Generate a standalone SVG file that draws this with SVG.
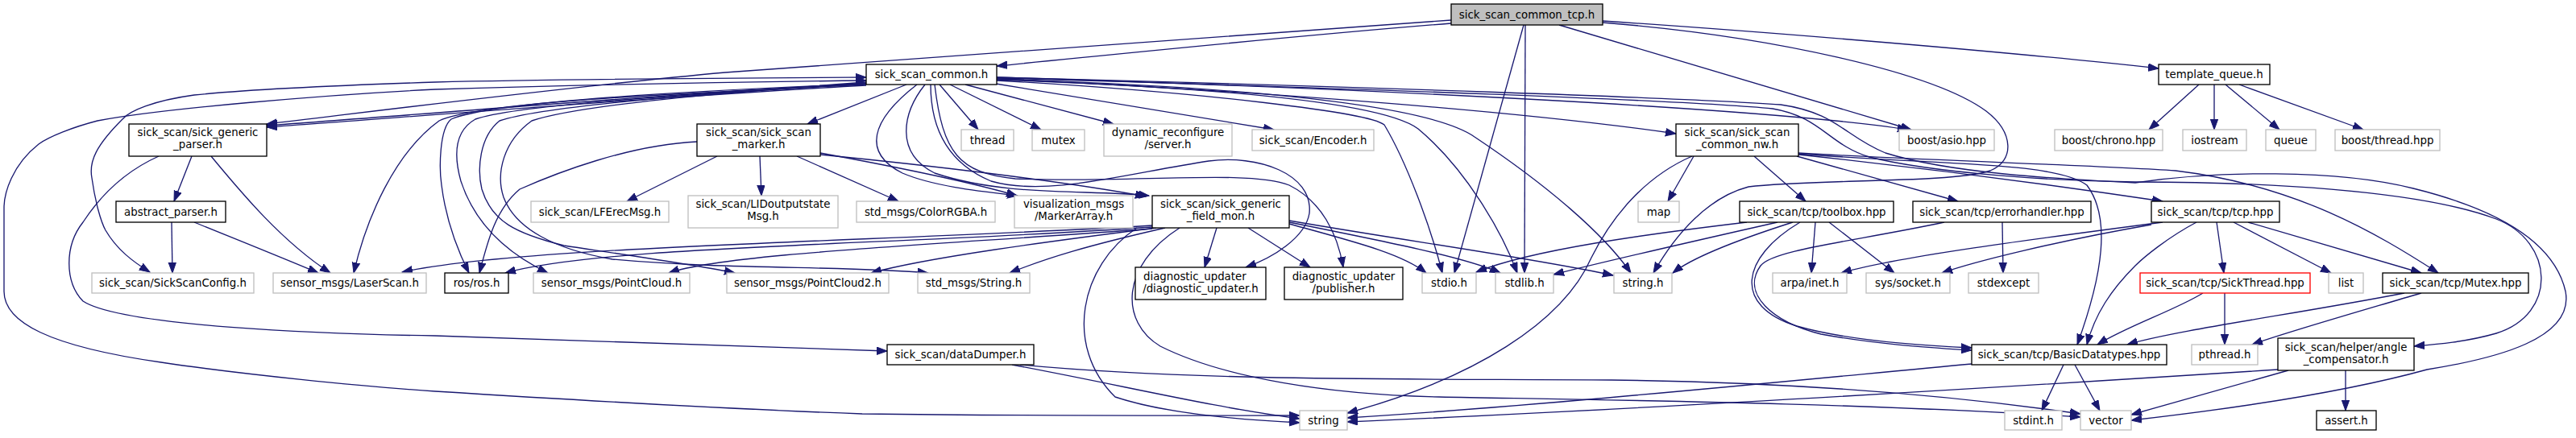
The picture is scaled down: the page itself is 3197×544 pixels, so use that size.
<svg xmlns="http://www.w3.org/2000/svg" width="3197" height="544" viewBox="0 0 3197 544">
<style>
text{font-family:"DejaVu Sans","Liberation Sans",sans-serif;font-size:13.33px;fill:#000;text-anchor:middle}
.d{fill:#fff;stroke:#000;stroke-width:1.33}
.u{fill:#fff;stroke:#bfbfbf;stroke-width:1.33}
.r{fill:#bfbfbf;stroke:#000;stroke-width:1.33}
.x{fill:#fff;stroke:#ff0000;stroke-width:1.33}
#edges path{fill:none;stroke:#191970;stroke-width:1.33;marker-end:url(#a)}
#edges path.b{marker-start:url(#s)}
</style>
<defs>
<marker id="a" markerUnits="userSpaceOnUse" markerWidth="15" markerHeight="11" refX="13" refY="5" orient="auto"><path d="M0,0.3 L13,5 L0,9.7 z" fill="#191970" stroke="#191970" stroke-width="1"/></marker>
<marker id="s" markerUnits="userSpaceOnUse" markerWidth="15" markerHeight="11" refX="13" refY="5" orient="auto-start-reverse"><path d="M0,0.3 L13,5 L0,9.7 z" fill="#191970" stroke="#191970" stroke-width="1"/></marker>
</defs>
<rect width="3197" height="544" fill="#fff"/>
<g id="edges">
<path d="M1801,29 C1600,45 1400,66 1237,82"/>
<path d="M1801,25 C1400,55 1000,82 900,90 C700,108 450,140 331,154"/>
<path d="M1075,104 C850,115 550,140 331,156"/>
<path d="M1075,106 C850,118 550,142 331,158"/>
<path class="b" d="M1075,96 C900,97 700,98 540,102 C420,106 300,112 241,118 C190,125 160,138 152,148 C120,180 110,200 114,221 C118,250 125,275 131,286 C145,310 165,325 186,338"/>
<path class="b" d="M1075,100 C900,102 700,106 540,111 C400,118 200,135 121,150 C90,158 60,170 48,179 C15,205 5,240 5,258 L5,362 C5,400 60,430 200,450 C300,465 450,480 540,486 C700,496 900,508 1070,514 C1300,517 1500,516 1613,516"/>
<path d="M1989,26 C2200,40 2500,65 2679,85"/>
<path d="M1935,31 C2100,80 2300,140 2372,161"/>
<path d="M1891,31 L1805,339"/>
<path d="M1893,31 L1892,339"/>
<path d="M1989,28 C2200,45 2400,90 2465,138 C2500,165 2500,200 2470,212 C2420,228 2250,222 2170,232 C2120,245 2080,290 2052,339"/>
<path d="M1075,105 C800,118 590,128 545,150 C490,190 455,270 439,339"/>
<path d="M1075,104 C800,115 600,130 560,148 C545,160 545,210 548,230 C553,270 565,305 582,339"/>
<path d="M1075,104 C850,118 640,130 590,148 C560,165 565,200 572,225 C590,280 630,315 680,339"/>
<path d="M1075,103 C900,115 680,130 620,150 C595,170 592,210 598,235 C610,275 640,290 700,305 C800,320 870,330 912,339"/>
<path d="M1075,102 C900,115 720,130 660,150 C625,175 615,215 625,245 C640,285 690,310 760,322 C900,335 1050,330 1152,339"/>
<path d="M1125,105 L1002,154"/>
<path d="M1138,105 C1080,150 1070,190 1120,215 C1160,232 1220,238 1263,243"/>
<path d="M1148,105 C1120,140 1110,190 1160,215 C1250,245 1350,235 1426,243"/>
<path d="M1166,105 L1214,161"/>
<path d="M1179,105 L1292,161"/>
<path d="M1198,105 L1382,154"/>
<path d="M1236,104 L1581,161"/>
<path d="M1155,105 C1155,150 1170,200 1230,225 C1300,245 1400,215 1500,200 C1560,192 1630,215 1625,265 C1620,295 1580,320 1546,332"/>
<path d="M1160,105 C1170,190 1190,215 1260,222 C1400,228 1550,210 1600,230 C1640,250 1660,290 1667,332"/>
<path d="M1237,98 C1600,115 1900,140 2080,166"/>
<path d="M1237,96 C1700,110 2200,135 2368,161"/>
<path d="M1237,100 C1500,115 1700,140 1718,155 C1745,200 1775,280 1790,339"/>
<path d="M1237,99 C1550,110 1720,130 1760,160 C1820,210 1865,290 1883,339"/>
<path d="M1237,98 C1600,110 1780,135 1830,170 C1920,230 1990,290 2024,339"/>
<path d="M1237,97 C1700,110 2100,125 2200,135 C2260,145 2270,180 2320,195 C2400,215 2550,225 2650,226 C2800,226 3000,235 3098,272 C3170,300 3175,390 3098,414 C3060,425 3020,428 2996,430"/>
<path d="M1237,96 C1700,108 2100,122 2210,130 C2280,140 2290,170 2340,190 C2420,215 2550,222 2650,227 C2750,212 2900,210 2995,234 C3100,260 3170,300 3184,362 C3195,420 3100,445 3012,459 C2900,490 2750,510 2645,522"/>
<path d="M2102,194 L2070,250"/>
<path d="M2100,194 C2040,220 2000,270 1975,320 C1940,400 1830,470 1672,513"/>
<path d="M2177,194 L2241,250"/>
<path d="M2230,194 L2430,250"/>
<path d="M2232,192 C2400,210 2550,230 2684,250"/>
<path d="M2232,190 C2400,200 2600,205 2700,212 C2850,230 2950,290 3026,339"/>
<path d="M2232,191 C2400,205 2550,200 2590,230 C2620,270 2610,340 2578,428"/>
<path d="M2168,276 C2050,290 1900,310 1832,338"/>
<path d="M2206,276 C2100,300 1990,325 1928,341"/>
<path d="M2225,276 C2150,300 2100,320 2076,339"/>
<path d="M2253,276 L2248,339"/>
<path d="M2270,276 L2351,339"/>
<path d="M2234,276 C2160,320 2150,380 2230,405 C2300,425 2400,430 2447,432"/>
<path d="M2413,276 C2300,300 2200,310 2185,330 C2160,365 2200,400 2260,415 C2330,428 2400,432 2447,435"/>
<path d="M2485,276 L2486,339"/>
<path d="M2684,276 C2500,300 2350,320 2285,339"/>
<path d="M2670,279 C2550,300 2450,325 2410,339"/>
<path d="M2726,276 C2690,295 2660,320 2650,330 C2620,360 2600,390 2590,428"/>
<path d="M2751,276 L2760,339"/>
<path d="M2772,276 L2893,339"/>
<path d="M2790,276 L3005,339"/>
<path d="M2734,364 C2700,385 2640,405 2603,428"/>
<path d="M2761,364 L2761,428"/>
<path d="M2984,364 C2850,390 2700,410 2640,428"/>
<path d="M3005,364 C2900,395 2830,415 2795,428"/>
<path d="M2911,460 L2911,510"/>
<path d="M2840,460 C2750,485 2680,505 2645,515"/>
<path d="M2827,459 C2500,480 2000,510 1672,524"/>
<path d="M2561,453 L2534,510"/>
<path d="M2575,453 L2606,510"/>
<path d="M2447,452 C2200,475 1900,505 1672,519"/>
<path d="M1256,453 C1400,480 1500,505 1613,520"/>
<path d="M1266,453 C1500,475 1800,470 2000,472 C2250,475 2450,495 2582,514"/>
<path d="M1411,283 C1340,330 1320,430 1384,493 C1450,515 1550,522 1613,525"/>
<path d="M1464,283 C1390,330 1390,400 1440,430 C1520,470 1650,490 1786,493 C2000,497 2300,500 2582,518"/>
<path d="M1510,283 L1495,332"/>
<path d="M1549,283 L1626,332"/>
<path d="M1600,278 C1680,300 1740,315 1770,339"/>
<path d="M1600,276 C1720,300 1820,320 1862,339"/>
<path d="M1600,274 C1750,300 1900,320 2002,342"/>
<path d="M1430,280 C1100,300 650,305 499,338"/>
<path d="M1430,282 C1100,305 750,305 627,339"/>
<path d="M1430,284 C1150,305 900,315 830,339"/>
<path d="M1435,283 C1300,300 1150,320 1081,339"/>
<path d="M1446,283 C1350,305 1300,320 1253,339"/>
<path d="M890,194 L778,250"/>
<path d="M943,194 L945,243"/>
<path d="M989,194 L1115,250"/>
<path d="M1018,190 C1100,205 1200,225 1262,243"/>
<path d="M1018,192 C1150,205 1320,225 1422,244"/>
<path d="M865,176 C780,180 690,215 645,235 C615,260 605,300 595,339"/>
<path d="M238,194 L216,250"/>
<path d="M262,194 C300,240 350,300 410,339"/>
<path d="M197,194 C150,215 120,250 103,276 C80,305 80,350 103,374 C150,405 400,415 540,417 C800,425 1000,434 1101,436"/>
<path d="M213,276 L214,339"/>
<path d="M241,276 C300,300 350,320 395,339"/>
<path d="M2729,105 L2667,161"/>
<path d="M2748,105 L2748,161"/>
<path d="M2762,105 L2829,161"/>
<path d="M2779,105 L2933,161"/>
</g>
<g id="n_root"><rect class="r" x="1801" y="5" width="188" height="26"/><text x="1895" y="22.5">sick_scan_common_tcp.h</text></g>
<g id="n_common"><rect class="d" x="1075" y="80" width="162" height="25"/><text x="1156" y="97">sick_scan_common.h</text></g>
<g id="n_tqueue"><rect class="d" x="2679" y="80" width="138" height="25"/><text x="2748" y="97">template_queue.h</text></g>
<g id="n_gparser"><rect class="d" x="160" y="154" width="171" height="40"/><text x="245.5" y="169">sick_scan/sick_generic</text><text x="245.5" y="184">_parser.h</text></g>
<g id="n_marker"><rect class="d" x="865" y="154" width="153" height="40"/><text x="941.5" y="169">sick_scan/sick_scan</text><text x="941.5" y="184">_marker.h</text></g>
<g id="n_thread"><rect class="u" x="1193" y="161" width="65" height="26"/><text x="1225.5" y="178.5">thread</text></g>
<g id="n_mutex"><rect class="u" x="1281" y="161" width="65" height="26"/><text x="1313.5" y="178.5">mutex</text></g>
<g id="n_dynrec"><rect class="u" x="1370" y="154" width="159" height="40"/><text x="1449.5" y="169">dynamic_reconfigure</text><text x="1449.5" y="184">/server.h</text></g>
<g id="n_encoder"><rect class="u" x="1554" y="161" width="151" height="26"/><text x="1629.5" y="178.5">sick_scan/Encoder.h</text></g>
<g id="n_nw"><rect class="d" x="2080" y="154" width="152" height="40"/><text x="2156" y="169">sick_scan/sick_scan</text><text x="2156" y="184">_common_nw.h</text></g>
<g id="n_asio"><rect class="u" x="2357" y="161" width="118" height="26"/><text x="2416" y="178.5">boost/asio.hpp</text></g>
<g id="n_chrono"><rect class="u" x="2550" y="161" width="134" height="26"/><text x="2617" y="178.5">boost/chrono.hpp</text></g>
<g id="n_iostream"><rect class="u" x="2709" y="161" width="79" height="26"/><text x="2748.5" y="178.5">iostream</text></g>
<g id="n_queue"><rect class="u" x="2812" y="161" width="62" height="26"/><text x="2843" y="178.5">queue</text></g>
<g id="n_bthread"><rect class="u" x="2898" y="161" width="130" height="26"/><text x="2963" y="178.5">boost/thread.hpp</text></g>
<g id="n_aparser"><rect class="d" x="144" y="250" width="136" height="26"/><text x="212" y="267.5">abstract_parser.h</text></g>
<g id="n_lferec"><rect class="u" x="659" y="250" width="171" height="26"/><text x="744.5" y="267.5">sick_scan/LFErecMsg.h</text></g>
<g id="n_lidout"><rect class="u" x="854" y="243" width="186" height="40"/><text x="947" y="258">sick_scan/LIDoutputstate</text><text x="947" y="273">Msg.h</text></g>
<g id="n_color"><rect class="u" x="1063" y="250" width="172" height="26"/><text x="1149" y="267.5">std_msgs/ColorRGBA.h</text></g>
<g id="n_marray"><rect class="u" x="1259" y="243" width="147" height="40"/><text x="1332.5" y="258">visualization_msgs</text><text x="1332.5" y="273">/MarkerArray.h</text></g>
<g id="n_fieldmon"><rect class="d" x="1430" y="243" width="170" height="40"/><text x="1515" y="258">sick_scan/sick_generic</text><text x="1515" y="273">_field_mon.h</text></g>
<g id="n_map"><rect class="u" x="2033" y="250" width="51" height="26"/><text x="2058.5" y="267.5">map</text></g>
<g id="n_toolbox"><rect class="d" x="2159" y="250" width="191" height="26"/><text x="2254.5" y="267.5">sick_scan/tcp/toolbox.hpp</text></g>
<g id="n_errh"><rect class="d" x="2374" y="250" width="221" height="26"/><text x="2484.5" y="267.5">sick_scan/tcp/errorhandler.hpp</text></g>
<g id="n_tcp"><rect class="d" x="2670" y="250" width="159" height="26"/><text x="2749.5" y="267.5">sick_scan/tcp/tcp.hpp</text></g>
<g id="n_config"><rect class="u" x="114" y="339" width="201" height="25"/><text x="214.5" y="356">sick_scan/SickScanConfig.h</text></g>
<g id="n_laser"><rect class="u" x="339" y="339" width="190" height="25"/><text x="434" y="356">sensor_msgs/LaserScan.h</text></g>
<g id="n_ros"><rect class="d" x="552" y="339" width="79" height="25"/><text x="591.5" y="356">ros/ros.h</text></g>
<g id="n_pc"><rect class="u" x="662" y="339" width="194" height="25"/><text x="759" y="356">sensor_msgs/PointCloud.h</text></g>
<g id="n_pc2"><rect class="u" x="902" y="339" width="201" height="25"/><text x="1002.5" y="356">sensor_msgs/PointCloud2.h</text></g>
<g id="n_string_msg"><rect class="u" x="1139" y="339" width="139" height="25"/><text x="1208.5" y="356">std_msgs/String.h</text></g>
<g id="n_diagupd"><rect class="d" x="1409" y="332" width="162" height="40"/><text x="1419" y="347.5" style="text-anchor:start">diagnostic_updater</text><text x="1490" y="362.5">/diagnostic_updater.h</text></g>
<g id="n_diagpub"><rect class="d" x="1594" y="332" width="147" height="40"/><text x="1667.5" y="347.5">diagnostic_updater</text><text x="1667.5" y="362.5">/publisher.h</text></g>
<g id="n_stdio"><rect class="u" x="1765" y="339" width="67" height="25"/><text x="1798.5" y="356">stdio.h</text></g>
<g id="n_stdlib"><rect class="u" x="1856" y="339" width="72" height="25"/><text x="1892" y="356">stdlib.h</text></g>
<g id="n_stringh"><rect class="u" x="2003" y="339" width="72" height="25"/><text x="2039" y="356">string.h</text></g>
<g id="n_inet"><rect class="u" x="2200" y="339" width="92" height="25"/><text x="2246" y="356">arpa/inet.h</text></g>
<g id="n_socket"><rect class="u" x="2316" y="339" width="104" height="25"/><text x="2368" y="356">sys/socket.h</text></g>
<g id="n_stdexcept"><rect class="u" x="2443" y="339" width="87" height="25"/><text x="2486.5" y="356">stdexcept</text></g>
<g id="n_sickthread"><rect class="x" x="2656" y="339" width="211" height="25"/><text x="2761.5" y="356">sick_scan/tcp/SickThread.hpp</text></g>
<g id="n_list"><rect class="u" x="2890" y="339" width="43" height="25"/><text x="2911.5" y="356">list</text></g>
<g id="n_mutexhpp"><rect class="d" x="2957" y="339" width="181" height="25"/><text x="3047.5" y="356">sick_scan/tcp/Mutex.hpp</text></g>
<g id="n_dumper"><rect class="d" x="1101" y="428" width="182" height="25"/><text x="1192" y="445">sick_scan/dataDumper.h</text></g>
<g id="n_basic"><rect class="d" x="2447" y="428" width="242" height="25"/><text x="2568" y="445">sick_scan/tcp/BasicDatatypes.hpp</text></g>
<g id="n_pthread"><rect class="u" x="2720" y="428" width="82" height="25"/><text x="2761" y="445">pthread.h</text></g>
<g id="n_anglecomp"><rect class="d" x="2827" y="420" width="169" height="40"/><text x="2911.5" y="435.5">sick_scan/helper/angle</text><text x="2911.5" y="450.5">_compensator.h</text></g>
<g id="n_string"><rect class="u" x="1613" y="510" width="59" height="24"/><text x="1642.5" y="526.5">string</text></g>
<g id="n_stdint"><rect class="u" x="2488" y="510" width="71" height="24"/><text x="2523.5" y="526.5">stdint.h</text></g>
<g id="n_vector"><rect class="u" x="2582" y="510" width="63" height="24"/><text x="2613.5" y="526.5">vector</text></g>
<g id="n_assert"><rect class="d" x="2875" y="510" width="74" height="24"/><text x="2912" y="526.5">assert.h</text></g>
</svg>
